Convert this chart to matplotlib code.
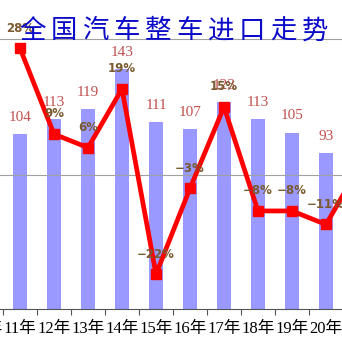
import numpy as np
import matplotlib
matplotlib.use("Agg")
import matplotlib.pyplot as plt

plt.rcParams['font.family'] = ['Liberation Serif', 'Noto Sans CJK SC']

title = "全国汽车整车进口走势"
years = ["10年", "11年", "12年", "13年", "14年", "15年", "16年", "17年", "18年", "19年", "20年", "21年"]
imports = [np.nan, 104, 113, 119, 143, 111, 107, 123, 113, 105, 93, np.nan]   # 万辆
growth = [np.nan, 28, 9, 6, 19, -22, -3, 15, -8, -8, -11, 2]                 # %

W = H = 342
fig = plt.figure(figsize=(W / 100, H / 100), dpi=100)
# plot area is larger than the visible picture (cropped screenshot)
ax = fig.add_axes([-31 / W, 33 / H, 408 / W, 329 / H])
ax2 = ax.twinx()

x = np.arange(len(years))
ax.bar(x, imports, width=0.41, color="#9999ff", zorder=2)
ax.set_xlim(-0.5, len(years) - 0.5)
ax.set_ylim(0, 195.8)

for xi, v in zip(x, imports):
    if not np.isnan(v):
        ax.annotate("%d" % v, (xi, v), xytext=(0, 12), textcoords="offset points",
                    ha="center", va="center", fontsize=11, color="#c0504d",
                    family=['Liberation Serif'])

ax2.set_ylim(-29.7, 43.1)
for g in [0, 30]:
    ax2.axhline(g, color="#a0a0a0", lw=0.8, zorder=0)
ax2.plot(x, growth, color="#ff0000", lw=3.4, marker="s", markersize=7.5, zorder=3)
for xi, g in zip(x, growth):
    if not np.isnan(g):
        txt = ("%d%%" % g).replace("-", "\u2212")
        ax2.annotate(txt, (xi, g), xytext=(0, 14.5), textcoords="offset points",
                     ha="center", va="center", fontsize=8.5, fontweight="bold",
                     color="#7a5a30", family=['DejaVu Sans'], zorder=4)

ax.set_xticks(x, years, minor=True)
ax.set_xticks(np.arange(len(years) + 1) - 0.5, [])
ax.tick_params(axis="x", which="minor", length=0, pad=9, labelsize=12)
ax.tick_params(axis="x", which="major", length=4, color="#555555")
ax.set_yticks([])
ax2.set_yticks([])
for a in (ax, ax2):
    for s in ("top", "left", "right"):
        a.spines[s].set_visible(False)
ax.spines["bottom"].set_color("#555555")
ax2.spines["bottom"].set_visible(False)

# title, wide letter spacing
for i, ch in enumerate(title):
    fig.text((33 + 31.3 * i) / W, 1 - 31 / H, ch, ha="center", va="center",
             fontsize=19, fontweight="medium", color="#0a0ac8",
             family=['Noto Sans CJK SC'])

fig.savefig("out.png", dpi=100)
